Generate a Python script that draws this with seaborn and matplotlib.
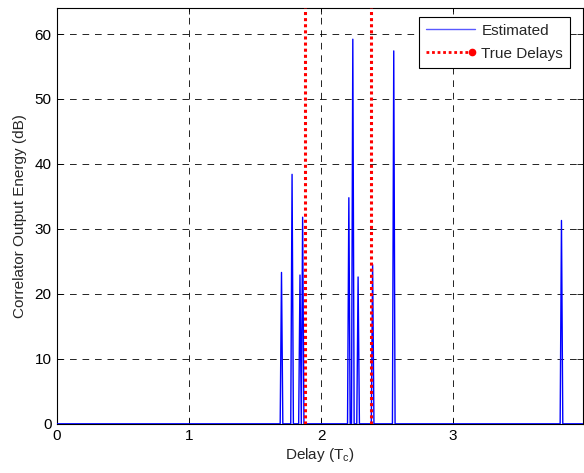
import numpy as np
import pandas as pd
import matplotlib
matplotlib.use("Agg")
import matplotlib.pyplot as plt
import seaborn as sns
from matplotlib.lines import Line2D
from matplotlib.legend_handler import HandlerBase

# ---- data ----
peak_delays = [1.702, 1.778, 1.841, 1.861, 2.210, 2.237, 2.285, 2.386, 2.553, 3.823]
peak_energy_db = [23.3, 38.4, 22.9, 31.8, 34.8, 59.2, 22.6, 24.5, 57.4, 31.3]
true_delays = [1.881, 2.374]
x_ticks = [0, 1, 2, 3]
y_ticks = [0, 10, 20, 30, 40, 50, 60]
x_max = 3.98
y_max = 64
step = 0.01

# correlator output sampled on a delay grid (zero except at the detected peaks)
delay = np.round(np.arange(0, x_max + step / 2, step), 4)
energy = np.zeros_like(delay)
for d, e in zip(peak_delays, peak_energy_db):
    energy[int(round(d / step))] = e
df = pd.DataFrame({"Delay": delay, "Energy": energy})

sns.set_style("white")
plt.rcParams["font.family"] = ["Liberation Sans", "DejaVu Sans"]
FS = 11
plt.rcParams["font.size"] = FS


class HandlerEndDot(HandlerBase):
    def create_artists(self, legend, orig_handle, xdescent, ydescent,
                       width, height, fontsize, trans):
        y = height / 2 - ydescent
        line = Line2D([-xdescent, -xdescent + width * 0.95], [y, y],
                      color="red", linestyle=(0, (1, 1)), linewidth=2.0)
        dot = Line2D([-xdescent + width * 0.93], [y], color="red",
                     marker="o", markersize=4.5, linestyle="none")
        line.set_transform(trans)
        dot.set_transform(trans)
        return [line, dot]


fig = plt.figure(figsize=(5.84, 4.73), dpi=100)
ax = fig.add_axes([0.0976, 0.104, 0.9, 0.879])

sns.lineplot(data=df, x="Delay", y="Energy", ax=ax, color=(0, 0, 1),
             linewidth=1.0, estimator=None, sort=False, legend=False, zorder=3)
for td in true_delays:
    ax.axvline(td, color="red", linestyle=(0, (1, 1)), linewidth=2.2, zorder=4)

ax.set_xlim(0, x_max)
ax.set_ylim(0, y_max)
ax.set_xticks(x_ticks)
ax.set_yticks(y_ticks)
ax.grid(True, color="black", linestyle=(0, (8, 7)), linewidth=0.6)
ax.tick_params(direction="in", length=4, width=0.6, labelsize=FS, pad=4,
               top=True, right=True, bottom=True, left=True, colors="black")
for s in ax.spines.values():
    s.set_color("black")
    s.set_linewidth(0.8)
ax.set_xlabel("Delay (T$_\\mathregular{c}$)", fontsize=FS, labelpad=2)
ax.set_ylabel("Correlator Output Energy (dB)", fontsize=FS, labelpad=5)

h_est = Line2D([], [], color=(0.35, 0.35, 1), linewidth=1.0)
h_true = Line2D([], [], color="red")
leg = ax.legend([h_est, h_true], ["Estimated", "True Delays"], loc="upper right",
                bbox_to_anchor=(0.976, 0.979), borderaxespad=0,
                fontsize=FS, frameon=True, fancybox=False, framealpha=1,
                edgecolor="black", handlelength=3.2,
                labelspacing=0.6, handletextpad=0.4, borderpad=0.45,
                handler_map={h_true: HandlerEndDot()})
leg.get_frame().set_linewidth(0.8)

fig.savefig("out.png", dpi=100)
